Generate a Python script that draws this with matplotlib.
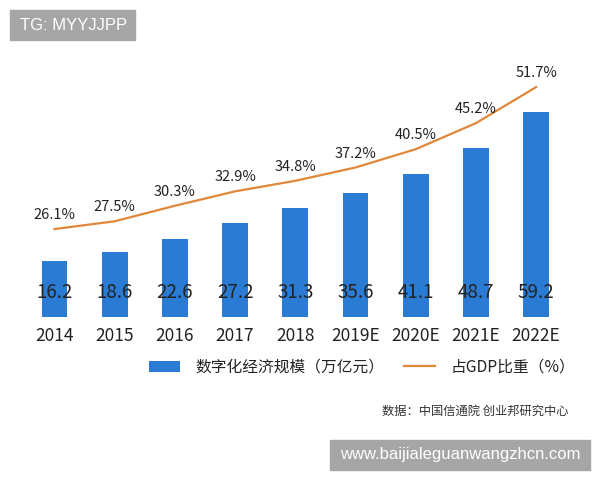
import matplotlib.pyplot as plt
from matplotlib.patches import Rectangle

plt.rcParams['font.family'] = ['Noto Sans CJK SC', 'DejaVu Sans']

years = ["2014", "2015", "2016", "2017", "2018", "2019E", "2020E", "2021E", "2022E"]
scale = [16.2, 18.6, 22.6, 27.2, 31.3, 35.6, 41.1, 48.7, 59.2]
gdp_share = [26.1, 27.5, 30.3, 32.9, 34.8, 37.2, 40.5, 45.2, 51.7]

bar_color = "#2a7bd3"
line_color = "#e0873a"
text_color = "#222222"

fig = plt.figure(figsize=(6, 4.8), dpi=100)
ax = fig.add_axes([0.0407, 0.3396, 0.903, 0.506])
x = list(range(len(years)))

bars = ax.bar(x, scale, width=0.43, color=bar_color, label="数字化经济规模（万亿元）")
for xi, v in zip(x, scale):
    ax.text(xi, 7.0, f"{v}", ha="center", va="center", fontsize=13.5, color=text_color)

ax.set_xlim(-0.5, len(years) - 0.5)
ax.set_ylim(0, 70)
ax.set_xticks(x)
ax.set_xticklabels(years, fontsize=12.5, color=text_color)
ax.tick_params(axis="x", length=0, pad=7)
ax.set_yticks([])
for s in ax.spines.values():
    s.set_visible(False)

ax2 = ax.twinx()
line, = ax2.plot(x, gdp_share, color=line_color, lw=1.6, label="占GDP比重（%）")
for xi, v in zip(x, gdp_share):
    ax2.annotate(f"{v}%", (xi, v), xytext=(0, 10), textcoords="offset points",
                 ha="center", va="center", fontsize=10.5, color=text_color)
ax2.set_ylim(10.24, 54.04)
ax2.set_yticks([])
for s in ax2.spines.values():
    s.set_visible(False)

fig.legend(handles=[bars, line], loc="center", bbox_to_anchor=(0.6033, 1 - 367 / 480),
           ncol=2, frameon=False, fontsize=11.3, handlelength=2.0, handletextpad=1.0,
           columnspacing=1.2, labelcolor=text_color)

fig.text(568 / 600, 1 - 411 / 480, "数据：中国信通院 创业邦研究中心", ha="right", va="center",
         fontsize=8.8, color="#333333")

# watermark boxes
fig.patches.append(Rectangle((10 / 600, 1 - 40 / 480), 125 / 600, 30 / 480,
                             transform=fig.transFigure, color="#a6a6a6", zorder=5))
fig.text(20 / 600, 1 - 25 / 480, "TG: MYYJJPP", ha="left", va="center", fontsize=12,
         color="white", family="Liberation Sans", zorder=6)
fig.patches.append(Rectangle((330 / 600, 1 - 470 / 480), 260 / 600, 30 / 480,
                             transform=fig.transFigure, color="#a6a6a6", zorder=5))
fig.text(340 / 600, 1 - 455 / 480, "www.baijialeguanwangzhcn.com", ha="left", va="center",
         fontsize=12, color="white", family="Liberation Sans", zorder=6)

fig.savefig("out.png", dpi=100)
